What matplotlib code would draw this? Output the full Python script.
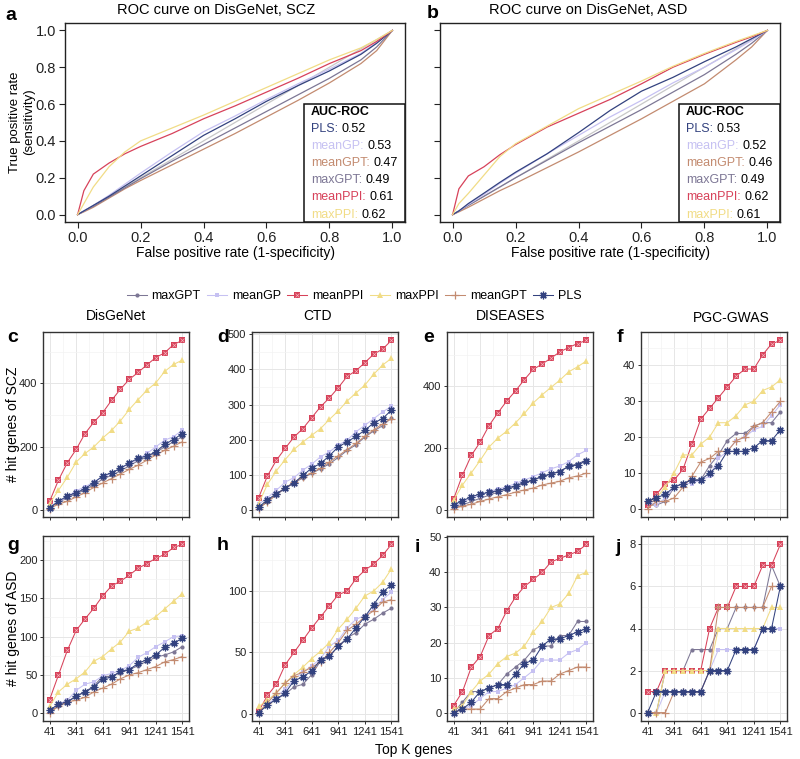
import matplotlib
matplotlib.use('Agg')
import matplotlib.pyplot as plt
import numpy as np
from matplotlib.patches import Rectangle
from matplotlib.lines import Line2D

plt.rcParams['font.family'] = ['Liberation Sans', 'DejaVu Sans']

# ---------------- ROC data ----------------
fpr = [0, 0.02, 0.05, 0.1, 0.15, 0.2, 0.3, 0.4, 0.5, 0.6, 0.7, 0.8, 0.9, 0.95, 1.0]

scz_roc_PLS = [0, 0.02, 0.05, 0.10, 0.155, 0.21, 0.32, 0.43, 0.52, 0.615, 0.70, 0.78, 0.87, 0.93, 1.0]
scz_roc_meanGP = [0, 0.02, 0.05, 0.105, 0.165, 0.225, 0.34, 0.45, 0.535, 0.625, 0.71, 0.79, 0.875, 0.935, 1.0]
scz_roc_meanGPT = [0, 0.015, 0.04, 0.09, 0.14, 0.185, 0.27, 0.355, 0.44, 0.53, 0.62, 0.715, 0.82, 0.89, 1.0]
scz_roc_maxGPT = [0, 0.02, 0.045, 0.095, 0.145, 0.195, 0.29, 0.38, 0.47, 0.56, 0.65, 0.74, 0.84, 0.91, 1.0]
scz_roc_meanPPI = [0, 0.13, 0.22, 0.28, 0.33, 0.37, 0.44, 0.52, 0.59, 0.665, 0.74, 0.82, 0.89, 0.94, 1.0]
scz_roc_maxPPI = [0, 0.06, 0.15, 0.26, 0.34, 0.40, 0.47, 0.54, 0.615, 0.69, 0.765, 0.84, 0.905, 0.95, 1.0]

asd_roc_PLS = [0, 0.02, 0.06, 0.117, 0.175, 0.23, 0.33, 0.445, 0.565, 0.67, 0.745, 0.83, 0.91, 0.955, 1.0]
asd_roc_meanGP = [0, 0.02, 0.055, 0.11, 0.17, 0.225, 0.33, 0.43, 0.53, 0.62, 0.715, 0.80, 0.895, 0.945, 1.0]
asd_roc_meanGPT = [0, 0.015, 0.04, 0.085, 0.13, 0.17, 0.255, 0.34, 0.43, 0.52, 0.615, 0.71, 0.84, 0.91, 1.0]
asd_roc_maxGPT = [0, 0.02, 0.05, 0.10, 0.15, 0.20, 0.295, 0.39, 0.48, 0.57, 0.665, 0.76, 0.87, 0.93, 1.0]
asd_roc_meanPPI = [0, 0.14, 0.21, 0.26, 0.325, 0.38, 0.475, 0.55, 0.625, 0.71, 0.80, 0.87, 0.935, 0.965, 1.0]
asd_roc_maxPPI = [0, 0.06, 0.115, 0.215, 0.315, 0.385, 0.48, 0.575, 0.65, 0.725, 0.805, 0.875, 0.94, 0.97, 1.0]

scz_auc = ['0.52', '0.53', '0.47', '0.49', '0.61', '0.62']   # PLS, meanGP, meanGPT, maxGPT, meanPPI, maxPPI
asd_auc = ['0.53', '0.52', '0.46', '0.49', '0.62', '0.61']

# ---------------- hit genes data ----------------
topk = [41, 141, 241, 341, 441, 541, 641, 741, 841, 941, 1041, 1141, 1241, 1341, 1441, 1541]

c_maxGPT = [8, 24, 40, 52, 64, 80, 98, 110, 124, 140, 156, 168, 182, 200, 216, 232]
c_meanGP = [13, 26, 42, 61, 74, 89, 105, 116, 132, 147, 160, 179, 200, 221, 232, 253]
c_meanPPI = [28, 95, 150, 192, 242, 278, 308, 347, 382, 413, 435, 459, 482, 497, 523, 536]
c_maxPPI = [21, 63, 104, 152, 179, 200, 228, 252, 282, 318, 349, 379, 402, 438, 460, 474]
c_meanGPT = [5, 19, 28, 42, 55, 72, 86, 100, 114, 129, 142, 158, 174, 189, 202, 216]
c_PLS = [8, 28, 45, 55, 68, 87, 108, 118, 132, 149, 164, 171, 184, 208, 223, 242]

d_maxGPT = [7, 25, 44, 62, 78, 92, 105, 118, 132, 150, 170, 186, 208, 225, 240, 262]
d_meanGP = [17, 36, 57, 80, 93, 114, 131, 152, 166, 185, 199, 223, 241, 260, 279, 295]
d_meanPPI = [36, 98, 142, 176, 208, 232, 263, 294, 319, 348, 380, 396, 419, 443, 457, 482]
d_maxPPI = [19, 74, 112, 144, 173, 194, 213, 232, 258, 282, 310, 333, 355, 386, 412, 431]
d_meanGPT = [5, 24, 45, 64, 80, 94, 106, 120, 137, 155, 172, 190, 210, 228, 245, 260]
d_PLS = [9, 30, 47, 63, 78, 99, 120, 133, 155, 180, 194, 210, 227, 248, 260, 284]

e_maxGPT = [8, 16, 28, 38, 48, 58, 66, 76, 86, 96, 108, 116, 126, 140, 150, 160]
e_meanGP = [11, 25, 39, 46, 60, 68, 75, 86, 97, 108, 120, 133, 142, 156, 178, 192]
e_meanPPI = [36, 113, 176, 219, 272, 313, 351, 384, 420, 453, 470, 489, 509, 523, 536, 546]
e_maxPPI = [32, 81, 120, 160, 203, 232, 254, 281, 311, 345, 371, 395, 418, 445, 461, 480]
e_meanGPT = [5, 13, 19, 28, 36, 43, 50, 58, 65, 71, 81, 87, 93, 104, 110, 119]
e_PLS = [17, 30, 43, 52, 57, 63, 70, 79, 89, 97, 109, 116, 124, 141, 146, 158]

f_maxGPT = [1, 1, 2, 6, 7, 8, 8, 12, 15, 19, 21, 21, 23, 24, 24, 27]
f_meanGP = [2, 1, 3, 6, 7, 7, 8, 9, 14, 16, 19, 20, 22, 23, 26, 29]
f_meanPPI = [1, 4, 7, 8, 11, 18, 25, 28, 31, 34, 37, 39, 39, 43, 46, 47]
f_maxPPI = [2, 3, 6, 10, 15, 15, 18, 20, 24, 24, 26, 29, 30, 33, 34, 36]
f_meanGPT = [0, 2, 2, 3, 6, 9, 13, 14, 16, 16, 19, 20, 23, 24, 27, 30]
f_PLS = [2, 3, 4, 6, 7, 8, 8, 10, 12, 16, 16, 16, 17, 19, 19, 22]

g_maxGPT = [3, 9, 15, 23, 28, 36, 48, 48, 53, 57, 62, 68, 73, 76, 80, 87]
g_meanGP = [4, 12, 17, 30, 38, 41, 49, 52, 56, 62, 73, 79, 87, 93, 100, 101]
g_meanPPI = [18, 50, 82, 108, 123, 137, 153, 166, 172, 180, 189, 195, 202, 207, 216, 220]
g_maxPPI = [9, 28, 38, 45, 54, 68, 74, 84, 93, 107, 111, 119, 126, 136, 146, 156]
g_meanGPT = [1, 9, 15, 17, 21, 28, 33, 38, 45, 50, 53, 57, 61, 67, 70, 74]
g_PLS = [4, 12, 15, 22, 28, 34, 45, 47, 55, 57, 65, 70, 76, 86, 91, 98]

h_maxGPT = [1, 8, 12, 16, 22, 24, 32, 43, 47, 55, 62, 66, 73, 77, 82, 86]
h_meanGP = [2, 7, 14, 20, 28, 34, 39, 45, 55, 60, 70, 77, 80, 85, 93, 99]
h_meanPPI = [2, 15, 24, 40, 50, 60, 70, 79, 88, 97, 100, 110, 117, 122, 129, 138]
h_maxPPI = [6, 11, 17, 25, 32, 38, 45, 51, 58, 69, 77, 86, 96, 100, 107, 118]
h_meanGPT = [1, 9, 17, 25, 31, 34, 38, 42, 50, 58, 68, 73, 79, 84, 91, 93]
h_PLS = [1, 7, 12, 17, 27, 30, 35, 44, 47, 55, 61, 70, 79, 89, 99, 105]

i_maxGPT = [0, 3, 6, 6, 7, 8, 11, 13, 15, 18, 19, 19, 22, 22, 26, 26]
i_meanGP = [0, 1, 2, 4, 6, 6, 7, 8, 10, 12, 15, 15, 15, 17, 18, 20]
i_meanPPI = [2, 6, 13, 16, 22, 24, 29, 33, 36, 38, 40, 43, 44, 45, 46, 48]
i_maxPPI = [1, 2, 6, 9, 11, 14, 16, 17, 19, 23, 26, 30, 31, 34, 39, 40]
i_meanGPT = [0, 1, 1, 1, 4, 4, 6, 7, 8, 8, 9, 9, 11, 12, 13, 13]
i_PLS = [0, 1, 3, 6, 7, 8, 8, 11, 14, 15, 19, 21, 21, 22, 23, 24]

j_maxGPT = [0, 0, 2, 2, 2, 3, 3, 3, 4, 4, 5, 5, 5, 5, 7, 6]
j_meanGP = [0, 0, 1, 1, 1, 1, 1, 2, 3, 3, 3, 3, 3, 4, 4, 4]
j_meanPPI = [1, 1, 2, 2, 2, 2, 2, 4, 5, 5, 6, 6, 6, 7, 7, 8]
j_maxPPI = [0, 0, 2, 2, 2, 2, 2, 2, 4, 4, 4, 4, 4, 4, 5, 5]
j_meanGPT = [0, 0, 0, 1, 1, 1, 1, 2, 5, 5, 5, 5, 5, 5, 6, 6]
j_PLS = [0, 1, 1, 1, 1, 1, 1, 2, 2, 2, 3, 3, 3, 4, 4, 6]

methods = ['maxGPT', 'meanGP', 'meanPPI', 'maxPPI', 'meanGPT', 'PLS']
colors = {'maxGPT': '#7D7795', 'meanGP': '#C6C1F2', 'meanPPI': '#D7425A',
          'maxPPI': '#F1DC86', 'meanGPT': '#C38B70', 'PLS': '#33427F'}
diag_col = '#C8C8C8'

W, H = 800, 759
fig = plt.figure(figsize=(W / 100, H / 100), dpi=100)


def box(x0, y0, x1, y1):
    return [x0 / W, 1 - y1 / H, (x1 - x0) / W, (y1 - y0) / H]


# ---------------- ROC panels ----------------
roc_sets = [
    (box(65, 23, 405, 222), [scz_roc_PLS, scz_roc_meanGP, scz_roc_meanGPT, scz_roc_maxGPT, scz_roc_meanPPI, scz_roc_maxPPI], scz_auc, True),
    (box(440, 23, 780, 222), [asd_roc_PLS, asd_roc_meanGP, asd_roc_meanGPT, asd_roc_maxGPT, asd_roc_meanPPI, asd_roc_maxPPI], asd_auc, False),
]
roc_names = ['PLS', 'meanGP', 'meanGPT', 'maxGPT', 'meanPPI', 'maxPPI']
for pos, curves, aucs, ylab in roc_sets:
    ax = fig.add_axes(pos)
    ax.plot([0, 1], [0, 1], color=diag_col, lw=0.9)
    for k in [2, 3, 1, 0, 4, 5]:
        ax.plot(fpr, curves[k], color=colors[roc_names[k]], lw=0.9)
    ax.set_xlim(-0.04, 1.04)
    ax.set_ylim(-0.04, 1.04)
    ax.set_xticks([0, 0.2, 0.4, 0.6, 0.8, 1.0])
    ax.set_yticks([0, 0.2, 0.4, 0.6, 0.8, 1.0])
    ax.set_xticklabels(['0.0', '0.2', '0.4', '0.6', '0.8', '1.0'])
    if ylab:
        ax.set_yticklabels(['0.0', '0.2', '0.4', '0.6', '0.8', '1.0'])
    else:
        ax.set_yticklabels([])
    ax.tick_params(length=4.5, width=0.8, labelsize=10.5, pad=2, colors='#222222')
    for s in ax.spines.values():
        s.set_linewidth(1.0)
        s.set_color('#222222')
    ax.set_xlabel('False positive rate (1-specificity)', fontsize=10, labelpad=1)
    lx = 0.72
    ax.add_patch(Rectangle((lx, -0.04), 1.04 - lx, 0.64, facecolor='white',
                           edgecolor='#111111', lw=1.1, zorder=5))
    ax.text(lx + 0.022, 0.555, 'AUC-ROC', fontsize=9, fontweight='bold', va='center', zorder=6)
    for n, (name, val) in enumerate(zip(roc_names, aucs)):
        yy = 0.467 - n * 0.0935
        t = ax.text(lx + 0.022, yy, name + ':', fontsize=9, color=colors[name], va='center', zorder=6)
        ax.annotate(val, xy=(1, 0.5), xycoords=t, xytext=(2.5, 0), textcoords='offset points',
                    fontsize=9, va='center', ha='left', zorder=6)

fig.text(5 / W, 1 - 15 / H, 'a', fontsize=14, fontweight='bold', va='center')
fig.text(427 / W, 1 - 14 / H, 'b', fontsize=14, fontweight='bold', va='center')
fig.text(216 / W, 1 - 10 / H, 'ROC curve on DisGeNet, SCZ', fontsize=10.5, ha='center', va='center')
fig.text(588 / W, 1 - 10 / H, 'ROC curve on DisGeNet, ASD', fontsize=10.5, ha='center', va='center')
fig.text(22 / W, 1 - 122 / H, 'True positive rate\n(sensitivity)', fontsize=9.5, rotation=90,
         ha='center', va='center', multialignment='center')

# ---------------- hit gene panels ----------------
markers = {'maxGPT': dict(marker='o', ms=3, mew=0),
           'meanGP': dict(marker='s', ms=3, mew=0),
           'meanPPI': dict(marker='s', ms=4.5, mew=0),
           'maxPPI': dict(marker='^', ms=3.8, mew=0),
           'meanGPT': dict(marker='+', ms=5.5, mew=0.9),
           'PLS': dict(marker=(8, 2, 0), ms=5.5, mew=0.9)}

panels = [
    ('c', [c_maxGPT, c_meanGP, c_meanPPI, c_maxPPI, c_meanGPT, c_PLS], [0, 200, 400], box(43, 332, 189, 517), False),
    ('d', [d_maxGPT, d_meanGP, d_meanPPI, d_maxPPI, d_meanGPT, d_PLS], [0, 100, 200, 300, 400, 500], box(252, 332, 398, 517), False),
    ('e', [e_maxGPT, e_meanGP, e_meanPPI, e_maxPPI, e_meanGPT, e_PLS], [0, 200, 400], box(447, 332, 593, 517), False),
    ('f', [f_maxGPT, f_meanGP, f_meanPPI, f_maxPPI, f_meanGPT, f_PLS], [0, 10, 20, 30, 40], box(641, 332, 787, 517), False),
    ('g', [g_maxGPT, g_meanGP, g_meanPPI, g_maxPPI, g_meanGPT, g_PLS], [0, 50, 100, 150, 200], box(43, 536, 189, 721), True),
    ('h', [h_maxGPT, h_meanGP, h_meanPPI, h_maxPPI, h_meanGPT, h_PLS], [0, 50, 100], box(252, 536, 398, 721), True),
    ('i', [i_maxGPT, i_meanGP, i_meanPPI, i_maxPPI, i_meanGPT, i_PLS], [0, 10, 20, 30, 40, 50], box(447, 536, 593, 721), True),
    ('j', [j_maxGPT, j_meanGP, j_meanPPI, j_maxPPI, j_meanGPT, j_PLS], [0, 2, 4, 6, 8], box(641, 536, 787, 721), True),
]
xt = [41, 341, 641, 941, 1241, 1541]
xminor = [191, 491, 791, 1091, 1391]

for letter, series, yt, pos, xlab in panels:
    ax = fig.add_axes(pos)
    allv = np.concatenate([np.array(s) for s in series])
    lo, hi = allv.min(), allv.max()
    pad = 0.05 * (hi - lo)
    ax.set_ylim(lo - pad, hi + pad)
    ax.set_xlim(41 - 75, 1541 + 75)
    step = yt[1] - yt[0]
    ymin = [v + step / 2 for v in [yt[0] - step] + yt if lo - pad < v + step / 2 < hi + pad]
    for v in xt:
        ax.axvline(v, color='#E6E6E6', lw=0.7, zorder=0)
    for v in xminor:
        ax.axvline(v, color='#F3F3F3', lw=0.5, zorder=0)
    for v in yt:
        ax.axhline(v, color='#E6E6E6', lw=0.7, zorder=0)
    for v in ymin:
        ax.axhline(v, color='#F3F3F3', lw=0.5, zorder=0)
    for name, vals in zip(methods, series):
        ax.plot(topk, vals, color=colors[name], lw=0.75, **markers[name])
        if name == 'meanPPI':
            ax.plot(topk, vals, ls='none', marker='x', ms=3, mew=0.5, color='#F4B3BC')
    ax.set_xticks(xt)
    ax.set_yticks(yt)
    ax.set_yticklabels([str(v) for v in yt])
    if xlab:
        ax.set_xticklabels([str(v) for v in xt])
    else:
        ax.set_xticklabels([])
    ax.tick_params(length=2.5, width=0.7, labelsize=8, pad=1.5, colors='#333333', labelcolor='#222222')
    for s in ax.spines.values():
        s.set_linewidth(1.0)
        s.set_color('#333333')

letter_pos = {'c': (7, 338), 'd': (217, 338), 'e': (423, 338), 'f': (617, 338),
              'g': (7, 545), 'h': (217, 545), 'i': (415, 547), 'j': (615, 547)}
for k, (px, py) in letter_pos.items():
    fig.text(px / W, 1 - py / H, k, fontsize=14, fontweight='bold', va='center')

fig.text(116 / W, 1 - 316 / H, 'DisGeNet', fontsize=10, ha='center', va='center')
fig.text(318 / W, 1 - 316 / H, 'CTD', fontsize=10, ha='center', va='center')
fig.text(511 / W, 1 - 316 / H, 'DISEASES', fontsize=10, ha='center', va='center')
fig.text(731 / W, 1 - 318 / H, 'PGC-GWAS', fontsize=10, ha='center', va='center')
fig.text(13 / W, 1 - 424 / H, '# hit genes of SCZ', fontsize=10, rotation=90, ha='center', va='center')
fig.text(13 / W, 1 - 628 / H, '# hit genes of ASD', fontsize=10, rotation=90, ha='center', va='center')
fig.text(414 / W, 1 - 750 / H, 'Top K genes', fontsize=10, ha='center', va='center')

handles = []
for name in methods:
    h = Line2D([], [], color=colors[name], lw=0.75, **markers[name])
    if name == 'meanPPI':
        h = (h, Line2D([], [], ls='none', marker='x', ms=3, mew=0.5, color='#F4B3BC'))
    handles.append(h)
fig.legend(handles, methods, loc='center', bbox_to_anchor=(354 / W, 1 - 296 / H), ncol=6,
           frameon=False, fontsize=9, handlelength=1.6, handletextpad=0.4, columnspacing=0.5,
           borderpad=0)

fig.savefig('out.png', dpi=100)
